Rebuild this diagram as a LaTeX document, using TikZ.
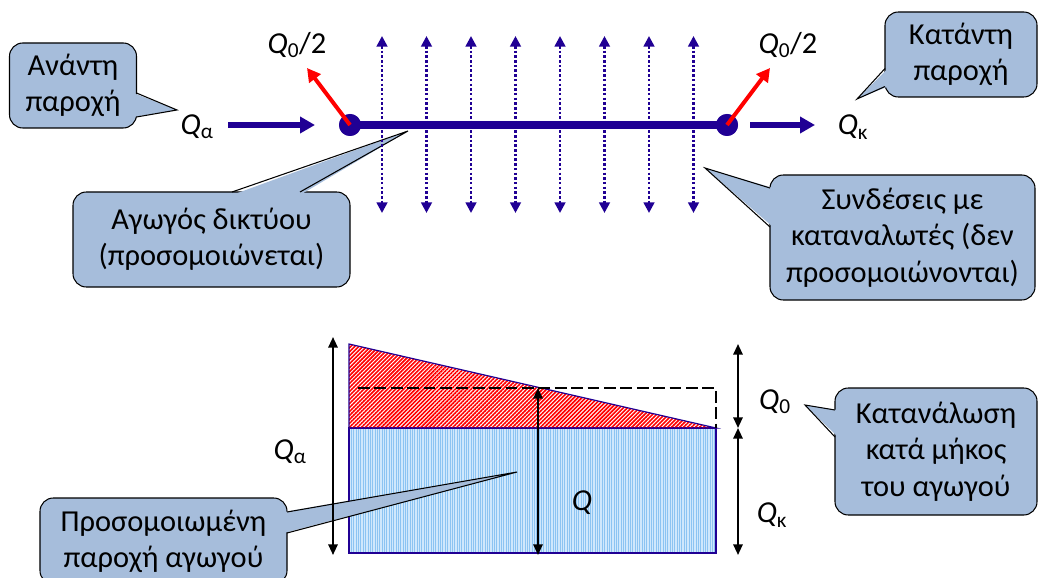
\documentclass[tikz,border=0pt]{standalone}
\usepackage{fontspec}
\setmainfont{Carlito}
\usetikzlibrary{arrows.meta,patterns.meta}

\definecolor{navy}{RGB}{32,0,148}
\definecolor{bubblefill}{RGB}{166,189,219}
\definecolor{paleblue}{RGB}{208,232,252}
\definecolor{stripeblue}{RGB}{140,196,242}

\tikzset{
  bubble/.style={draw=black,line width=0.9pt,fill=bubblefill,rounded corners=4mm,
    align=center,inner sep=0pt,outer sep=0pt},
  tipline/.style={black,line width=0.9pt},
  flow/.style={navy,line width=4.3pt,-{Triangle[length=4.5mm,width=4.8mm]}},
  half/.style={red,line width=3.4pt,-{Triangle[length=4mm,width=4.2mm]}},
  pipe/.style={navy,line width=6.8pt},
  joint/.style={circle,fill=navy,minimum size=6.6mm,inner sep=0pt},
  link/.style={navy,line width=2.2pt,dash pattern=on 2.2pt off 1.8pt,
    {Triangle[length=3.2mm,width=3.2mm]}-{Triangle[length=3.2mm,width=3.2mm]}},
  dim/.style={black,line width=1.7pt,
    {Triangle[length=3.2mm,width=2.8mm]}-{Triangle[length=3.2mm,width=2.8mm]}}
}

\begin{document}
\begin{tikzpicture}[x=0.3mm,y=-0.3mm,font=\fontsize{26}{31}\selectfont]
    \useasboundingbox (0,0) rectangle (1042,578);
    % lower picture: flow along the pipe
    \coordinate (B1) at (349,553);
    \coordinate (B2) at (716,553);
    \coordinate (M1) at (349,428);
    \coordinate (M2) at (716,428);
    \coordinate (T1) at (349,344);
    \coordinate (D1) at (358,388);
    \coordinate (D2) at (716,388);
    \fill[paleblue] (M1) rectangle (B2);
    \fill[pattern={Lines[angle=90,distance=2pt,line width=0.6pt]},pattern color=stripeblue] (M1) rectangle (B2);
    \draw[navy,line width=1.3pt] (M1) rectangle (B2);
    \fill[pattern={Lines[angle=45,distance=2.4pt,line width=1.4pt]},pattern color=red] (T1) -- (M2) -- (M1) -- cycle;
    \draw[navy,line width=1pt] (T1) -- (M2) -- (M1) -- cycle;
    \draw[black,line width=1.7pt,dash pattern=on 10pt off 4pt] (D1) -- (D2) -- (M2);

    % callouts
    \node[bubble,minimum width=38.1mm,minimum height=25.5mm] (upin) at (73,85.5) {Ανάντη\\παροχή};
    \coordinate (upinT) at (177,110);
    \fill[bubblefill] ([shift={(-3,7.5)}]upin.east) -- (upinT) -- ([shift={(-3,31.5)}]upin.east) -- cycle;
    \draw[tipline] ([shift={(0,7.5)}]upin.east) -- (upinT) -- ([shift={(0,31.5)}]upin.east);

    \node[bubble,minimum width=45.6mm,minimum height=25.5mm] (downout) at (961,54.5) {Κατάντη\\παροχή};
    \coordinate (downoutT) at (857,99);
    \fill[bubblefill] ([shift={(3,14)}]downout.west) -- (downoutT) -- ([shift={(3,32)}]downout.west) -- cycle;
    \draw[tipline] ([shift={(0,14)}]downout.west) -- (downoutT) -- ([shift={(0,32)}]downout.west);

    \node[bubble,minimum width=83.1mm,minimum height=28.5mm] (pipebox) at (211.5,239.5) {Αγωγός δικτύου\\(προσομοιώνεται)};
    \coordinate (pipeboxT) at (408,131);
    \fill[bubblefill] ([shift={(20.5,3)}]pipebox.north) -- (pipeboxT) -- ([shift={(88.5,3)}]pipebox.north) -- cycle;
    \draw[tipline] ([shift={(20.5,0)}]pipebox.north) -- (pipeboxT) -- ([shift={(88.5,0)}]pipebox.north);

    \node[bubble,minimum width=79.5mm,minimum height=37.5mm] (users) at (902.5,237.5) {Συνδέσεις με\\καταναλωτές (δεν\\προσομοιώνονται)};
    \coordinate (usersT) at (705,168);
    \fill[bubblefill] ([shift={(3,-49.5)}]users.west) -- (usersT) -- ([shift={(3,-10.5)}]users.west) -- cycle;
    \draw[tipline] ([shift={(0,-49.5)}]users.west) -- (usersT) -- ([shift={(0,-10.5)}]users.west);

    \node[bubble,minimum width=60.6mm,minimum height=38.1mm] (spend) at (936,451.5) {Κατανάλωση\\κατά μήκος\\του αγωγού};
    \coordinate (spendT) at (805,405);
    \fill[bubblefill] ([shift={(3,-41.5)}]spend.west) -- (spendT) -- ([shift={(3,-14.5)}]spend.west) -- cycle;
    \draw[tipline] ([shift={(0,-41.5)}]spend.west) -- (spendT) -- ([shift={(0,-14.5)}]spend.west);

    \node[bubble,minimum width=74.1mm,minimum height=25.8mm] (model) at (163.5,541) {Προσομοιωμένη\\παροχή αγωγού};
    \coordinate (modelT) at (517,472);
    \fill[bubblefill] ([shift={(-3,-29)}]model.east) -- (modelT) -- ([shift={(-3,-8)}]model.east) -- cycle;
    \draw[tipline] ([shift={(0,-29)}]model.east) -- (modelT) -- ([shift={(0,-8)}]model.east);

    % dimension arrows of the lower picture
    \coordinate (QaT) at (333,337);
    \coordinate (QaB) at (333,555);
    \coordinate (QT) at (538,388);
    \coordinate (QB) at (538,555);
    \coordinate (RT) at (738,344);
    \coordinate (RM) at (738,428);
    \coordinate (RB) at (738,555);
    \draw[dim] (QaT) -- (QaB);
    \draw[dim] (QT) -- (QB);
    \draw[dim] (RT) -- (RM);
    \draw[dim] (RM) -- (RB);
    \node (qa2) at (290,452) {\textit{Q}\textsubscript{α}};
    \node (q) at (582,503) {\textit{Q}};
    \node (q0) at (775,402) {\textit{Q}\textsubscript{0}};
    \node (qk2) at (772,515) {\textit{Q}\textsubscript{κ}};

    % upper picture: the pipe and its connections
    \foreach \x in {382,426.5,...,694}
        \draw[link] (\x,36) -- (\x,213);
    \node[joint] (Na) at (350,125) {};
    \node[joint] (Nk) at (727,125) {};
    \draw[pipe] (Na.center) -- (Nk.center);
    \node[joint] at (Na) {};
    \node[joint] at (Nk) {};
    \coordinate (ha) at (307,68);
    \coordinate (hk) at (770,68);
    \draw[half] (Na.center) -- (ha);
    \draw[half] (Nk.center) -- (hk);
    \coordinate (inS) at (228,125);
    \coordinate (outE) at (815,125);
    \draw[flow,shorten >=10.5mm] (inS) -- (Na.center);
    \draw[flow,shorten <=6.9mm] (Nk.center) -- (outE);
    \node (qa) at (197,127) {\textit{Q}\textsubscript{α}};
    \node (qk) at (853,127) {\textit{Q}\textsubscript{κ}};
    \node (ha2) at (297,45) {\textit{Q}\textsubscript{0}/2};
    \node (hk2) at (788,45) {\textit{Q}\textsubscript{0}/2};
\end{tikzpicture}
\end{document}
